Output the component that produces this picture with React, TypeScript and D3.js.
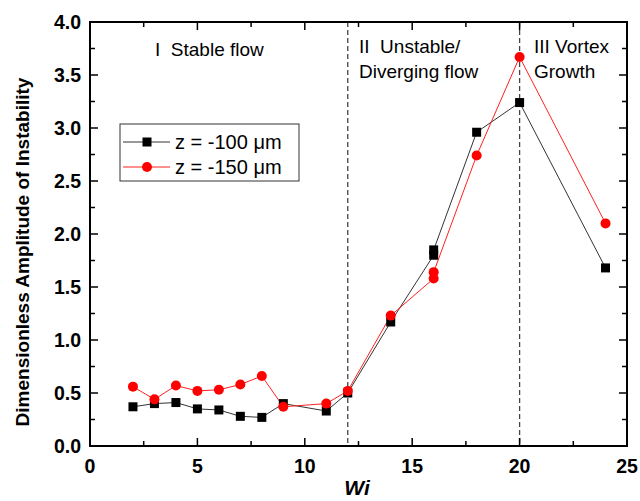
import React from "react";
import * as d3 from "d3";

const wiBlack = [2, 3, 4, 5, 6, 7, 8, 9, 11, 12, 14, 16, 16, 18, 20, 24];
const ampBlack = [0.37, 0.4, 0.41, 0.35, 0.34, 0.28, 0.27, 0.4, 0.33, 0.5, 1.17, 1.8, 1.85, 2.96, 3.24, 1.68];
const wiRed = [2, 3, 4, 5, 6, 7, 8, 9, 11, 12, 14, 16, 16, 18, 20, 24];
const ampRed = [0.56, 0.44, 0.57, 0.52, 0.53, 0.58, 0.66, 0.37, 0.4, 0.52, 1.23, 1.58, 1.64, 2.74, 3.67, 2.1];
const xTicks = [0, 5, 10, 15, 20, 25];
const yTicks = [0, 0.5, 1, 1.5, 2, 2.5, 3, 3.5, 4];
const regionLines = [12, 20];
const seriesLabels = ["z = -100 \u03bcm", "z = -150 \u03bcm"];

export default function App() {
  const W = 640, H = 501;
  const left = 90, right = 627, top = 22, bottom = 446;
  const x = d3.scaleLinear().domain([0, 25]).range([left, right]);
  const y = d3.scaleLinear().domain([0, 4]).range([bottom, top]);
  const mk = (xs: number[], ys: number[]) =>
    d3.line<number>().x((d) => x(d)).y((_, i) => y(ys[i]))(xs) || "";
  const xMinor = d3.range(0, 25.01, 2.5);
  const yMinor = d3.range(0, 4.01, 0.25);
  const font = "'Liberation Sans', Arial, sans-serif";
  return (
    <svg width={W} height={H} style={{ display: "block", position: "absolute", left: 0, top: 0 }} fontFamily={font}>
      <rect width={W} height={H} fill="#fff" />
      {regionLines.map((v) => (
        <line key={v} x1={x(v)} x2={x(v)} y1={top} y2={bottom} stroke="#444" strokeWidth={1.3} strokeDasharray="5,3" />
      ))}
      {xMinor.map((v, i) => {
        const major = i % 2 === 0;
        const len = major ? 8 : 5;
        return (
          <g key={"xt" + i}>
            <line x1={x(v)} x2={x(v)} y1={bottom} y2={bottom - len} stroke="#000" strokeWidth={1.5} />
            <line x1={x(v)} x2={x(v)} y1={top} y2={top + len} stroke="#000" strokeWidth={1.5} />
          </g>
        );
      })}
      {yMinor.map((v, i) => {
        const major = i % 2 === 0;
        const len = major ? 8 : 5;
        return (
          <g key={"yt" + i}>
            <line x1={left} x2={left + len} y1={y(v)} y2={y(v)} stroke="#000" strokeWidth={1.5} />
            <line x1={right} x2={right - len} y1={y(v)} y2={y(v)} stroke="#000" strokeWidth={1.5} />
          </g>
        );
      })}
      <rect x={left} y={top} width={right - left} height={bottom - top} fill="none" stroke="#000" strokeWidth={2} />
      {xTicks.map((v) => (
        <text key={"xl" + v} x={x(v)} y={473} textAnchor="middle" fontSize={19.5} fontWeight="bold">{v}</text>
      ))}
      {yTicks.map((v) => (
        <text key={"yl" + v} x={81} y={y(v) + 7} textAnchor="end" fontSize={19.5} fontWeight="bold">{v.toFixed(1)}</text>
      ))}
      <text x={357} y={495} textAnchor="middle" fontSize={21} fontWeight="bold" fontStyle="italic">Wi</text>
      <text transform={`translate(29,${(top + bottom) / 2 + 18}) rotate(-90)`} textAnchor="middle" fontSize={19} fontWeight="bold">
        Dimensionless Amplitude of Instability
      </text>
      <text x={155} y={56} fontSize={19} style={{ whiteSpace: "pre" }}>I  Stable flow</text>
      <text x={359} y={53} fontSize={19} style={{ whiteSpace: "pre" }}>II  Unstable/</text>
      <text x={359} y={78} fontSize={19}>Diverging flow</text>
      <text x={534} y={53} fontSize={19}>III Vortex</text>
      <text x={534} y={78} fontSize={19}>Growth</text>
      <path d={mk(wiBlack, ampBlack)} fill="none" stroke="#333" strokeWidth={1} />
      <path d={mk(wiRed, ampRed)} fill="none" stroke="#ff2020" strokeWidth={1} />
      {wiBlack.map((v, i) => (
        <rect key={"b" + i} x={x(v) - 4.5} y={y(ampBlack[i]) - 4.5} width={9} height={9} fill="#000" />
      ))}
      {wiRed.map((v, i) => (
        <circle key={"r" + i} cx={x(v)} cy={y(ampRed[i])} r={5} fill="#ff0000" />
      ))}
      <rect x={120} y={124} width={179} height={57} fill="#fff" stroke="#333" strokeWidth={1} />
      <line x1={123} x2={170} y1={142} y2={142} stroke="#333" strokeWidth={1} />
      <rect x={142.5} y={137.5} width={9} height={9} fill="#000" />
      <text x={175} y={149} fontSize={20}>{seriesLabels[0]}</text>
      <line x1={123} x2={170} y1={167} y2={167} stroke="#ff2020" strokeWidth={1} />
      <circle cx={147} cy={167} r={5} fill="#ff0000" />
      <text x={175} y={174} fontSize={20}>{seriesLabels[1]}</text>
    </svg>
  );
}
